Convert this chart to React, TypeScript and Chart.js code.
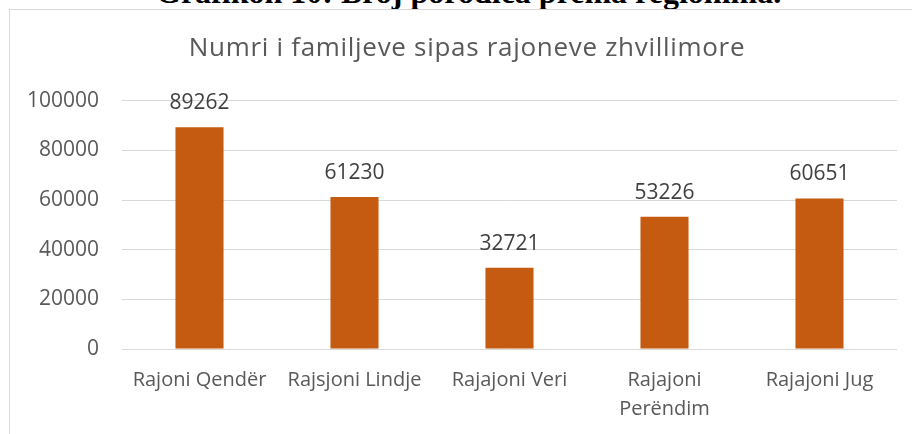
import React, { useEffect, useRef } from "react";
import { Chart, registerables } from "chart.js";

Chart.register(...registerables);

const heading = "Grafikon 10: Broj porodica prema regionima.";
const chartTitle = "Numri i familjeve sipas rajoneve zhvillimore";
const categories: (string | string[])[] = [
  "Rajoni Qendër",
  "Rajsjoni Lindje",
  "Rajajoni Veri",
  ["Rajajoni", "Perëndim"],
  "Rajajoni Jug",
];
const values: number[] = [89262, 61230, 32721, 53226, 60651];
const yMin = 0;
const yMax = 100000;
const yStep = 20000;

const FONT = "'Open Sans', 'Noto Sans', sans-serif";

const valueLabels = {
  id: "valueLabels",
  afterDatasetsDraw(chart: any) {
    const ctx = chart.ctx;
    const meta = chart.getDatasetMeta(0);
    ctx.save();
    ctx.font = `21px ${FONT}`;
    ctx.fillStyle = "#404040";
    ctx.textAlign = "center";
    ctx.textBaseline = "middle";
    meta.data.forEach((bar: any, i: number) => {
      ctx.fillText(String(values[i]), bar.x, bar.y - 24);
    });
    ctx.restore();
  },
};

const spacedTitle = {
  id: "spacedTitle",
  afterDraw(chart: any) {
    const tb = chart.titleBlock;
    if (!tb) return;
    const ctx = chart.ctx;
    const opts = chart.options.plugins.title;
    const lh = opts.font.size * opts.font.lineHeight;
    const mid = tb.top + opts.padding.top + lh / 2;
    ctx.save();
    ctx.font = `26px ${FONT}`;
    (ctx as any).letterSpacing = "0.7px";
    ctx.fillStyle = "#595959";
    ctx.textAlign = "center";
    ctx.textBaseline = "alphabetic";
    ctx.fillText(chartTitle, chart.width / 2, mid + 9);
    ctx.restore();
  },
};

export default function App() {
  const canvasRef = useRef<HTMLCanvasElement | null>(null);

  useEffect(() => {
    if (!canvasRef.current) return;
    const chart = new Chart(canvasRef.current, {
      type: "bar",
      data: {
        labels: categories,
        datasets: [
          {
            data: values,
            backgroundColor: "#C55A11",
            borderWidth: 0,
            barPercentage: 0.31,
            categoryPercentage: 1,
          },
        ],
      },
      options: {
        animation: false,
        responsive: false,
        maintainAspectRatio: false,
        layout: { padding: { left: 0, right: 27, top: 0, bottom: 0 } },
        plugins: {
          legend: { display: false },
          tooltip: { enabled: false },
          title: {
            display: true,
            text: chartTitle,
            color: "rgba(0,0,0,0)",
            font: { family: FONT, size: 24, weight: "normal", lineHeight: 1.2 },
            padding: { top: 22.6, bottom: 39.3 },
          },
        },
        scales: {
          x: {
            grid: { display: false, drawTicks: false },
            border: { display: false },
            ticks: {
              color: "#595959",
              font: { family: FONT, size: 20, lineHeight: 1.45 },
              padding: 16.5,
              autoSkip: false,
              maxRotation: 0,
              minRotation: 0,
            },
            afterFit(scale: any) {
              scale.height = 85;
            },
          },
          y: {
            min: yMin,
            max: yMax,
            grid: { color: "#D9D9D9", lineWidth: 1, drawTicks: false },
            border: { display: false },
            ticks: {
              stepSize: yStep,
              color: "#595959",
              font: { family: FONT, size: 21 },
              padding: 23,
              callback: (v: any) => String(v),
            },
            afterFit(scale: any) {
              scale.width = 112;
            },
          },
        },
      },
      plugins: [valueLabels, spacedTitle],
    });
    return () => chart.destroy();
  }, []);

  return (
    <div
      style={{
        position: "fixed",
        left: 0,
        top: 0,
        width: 912,
        height: 434,
        overflow: "hidden",
        background: "#ffffff",
      }}
    >
      <div
        style={{
          position: "absolute",
          left: 156,
          top: -24,
          fontFamily: "'Liberation Serif', 'Times New Roman', serif",
          fontWeight: "bold",
          fontSize: 32,
          lineHeight: "32px",
          color: "#000000",
          whiteSpace: "nowrap",
        }}
      >
        {heading}
      </div>
      <div
        style={{
          position: "absolute",
          left: 9,
          top: 9,
          width: 940,
          height: 460,
          borderLeft: "1px solid #D9D9D9",
          borderTop: "1px solid #D9D9D9",
          background: "#ffffff",
        }}
      >
        <canvas
          ref={canvasRef}
          width={914}
          height={424}
          style={{ position: "absolute", left: 0, top: 0, width: 914, height: 424 }}
        />
      </div>
    </div>
  );
}
